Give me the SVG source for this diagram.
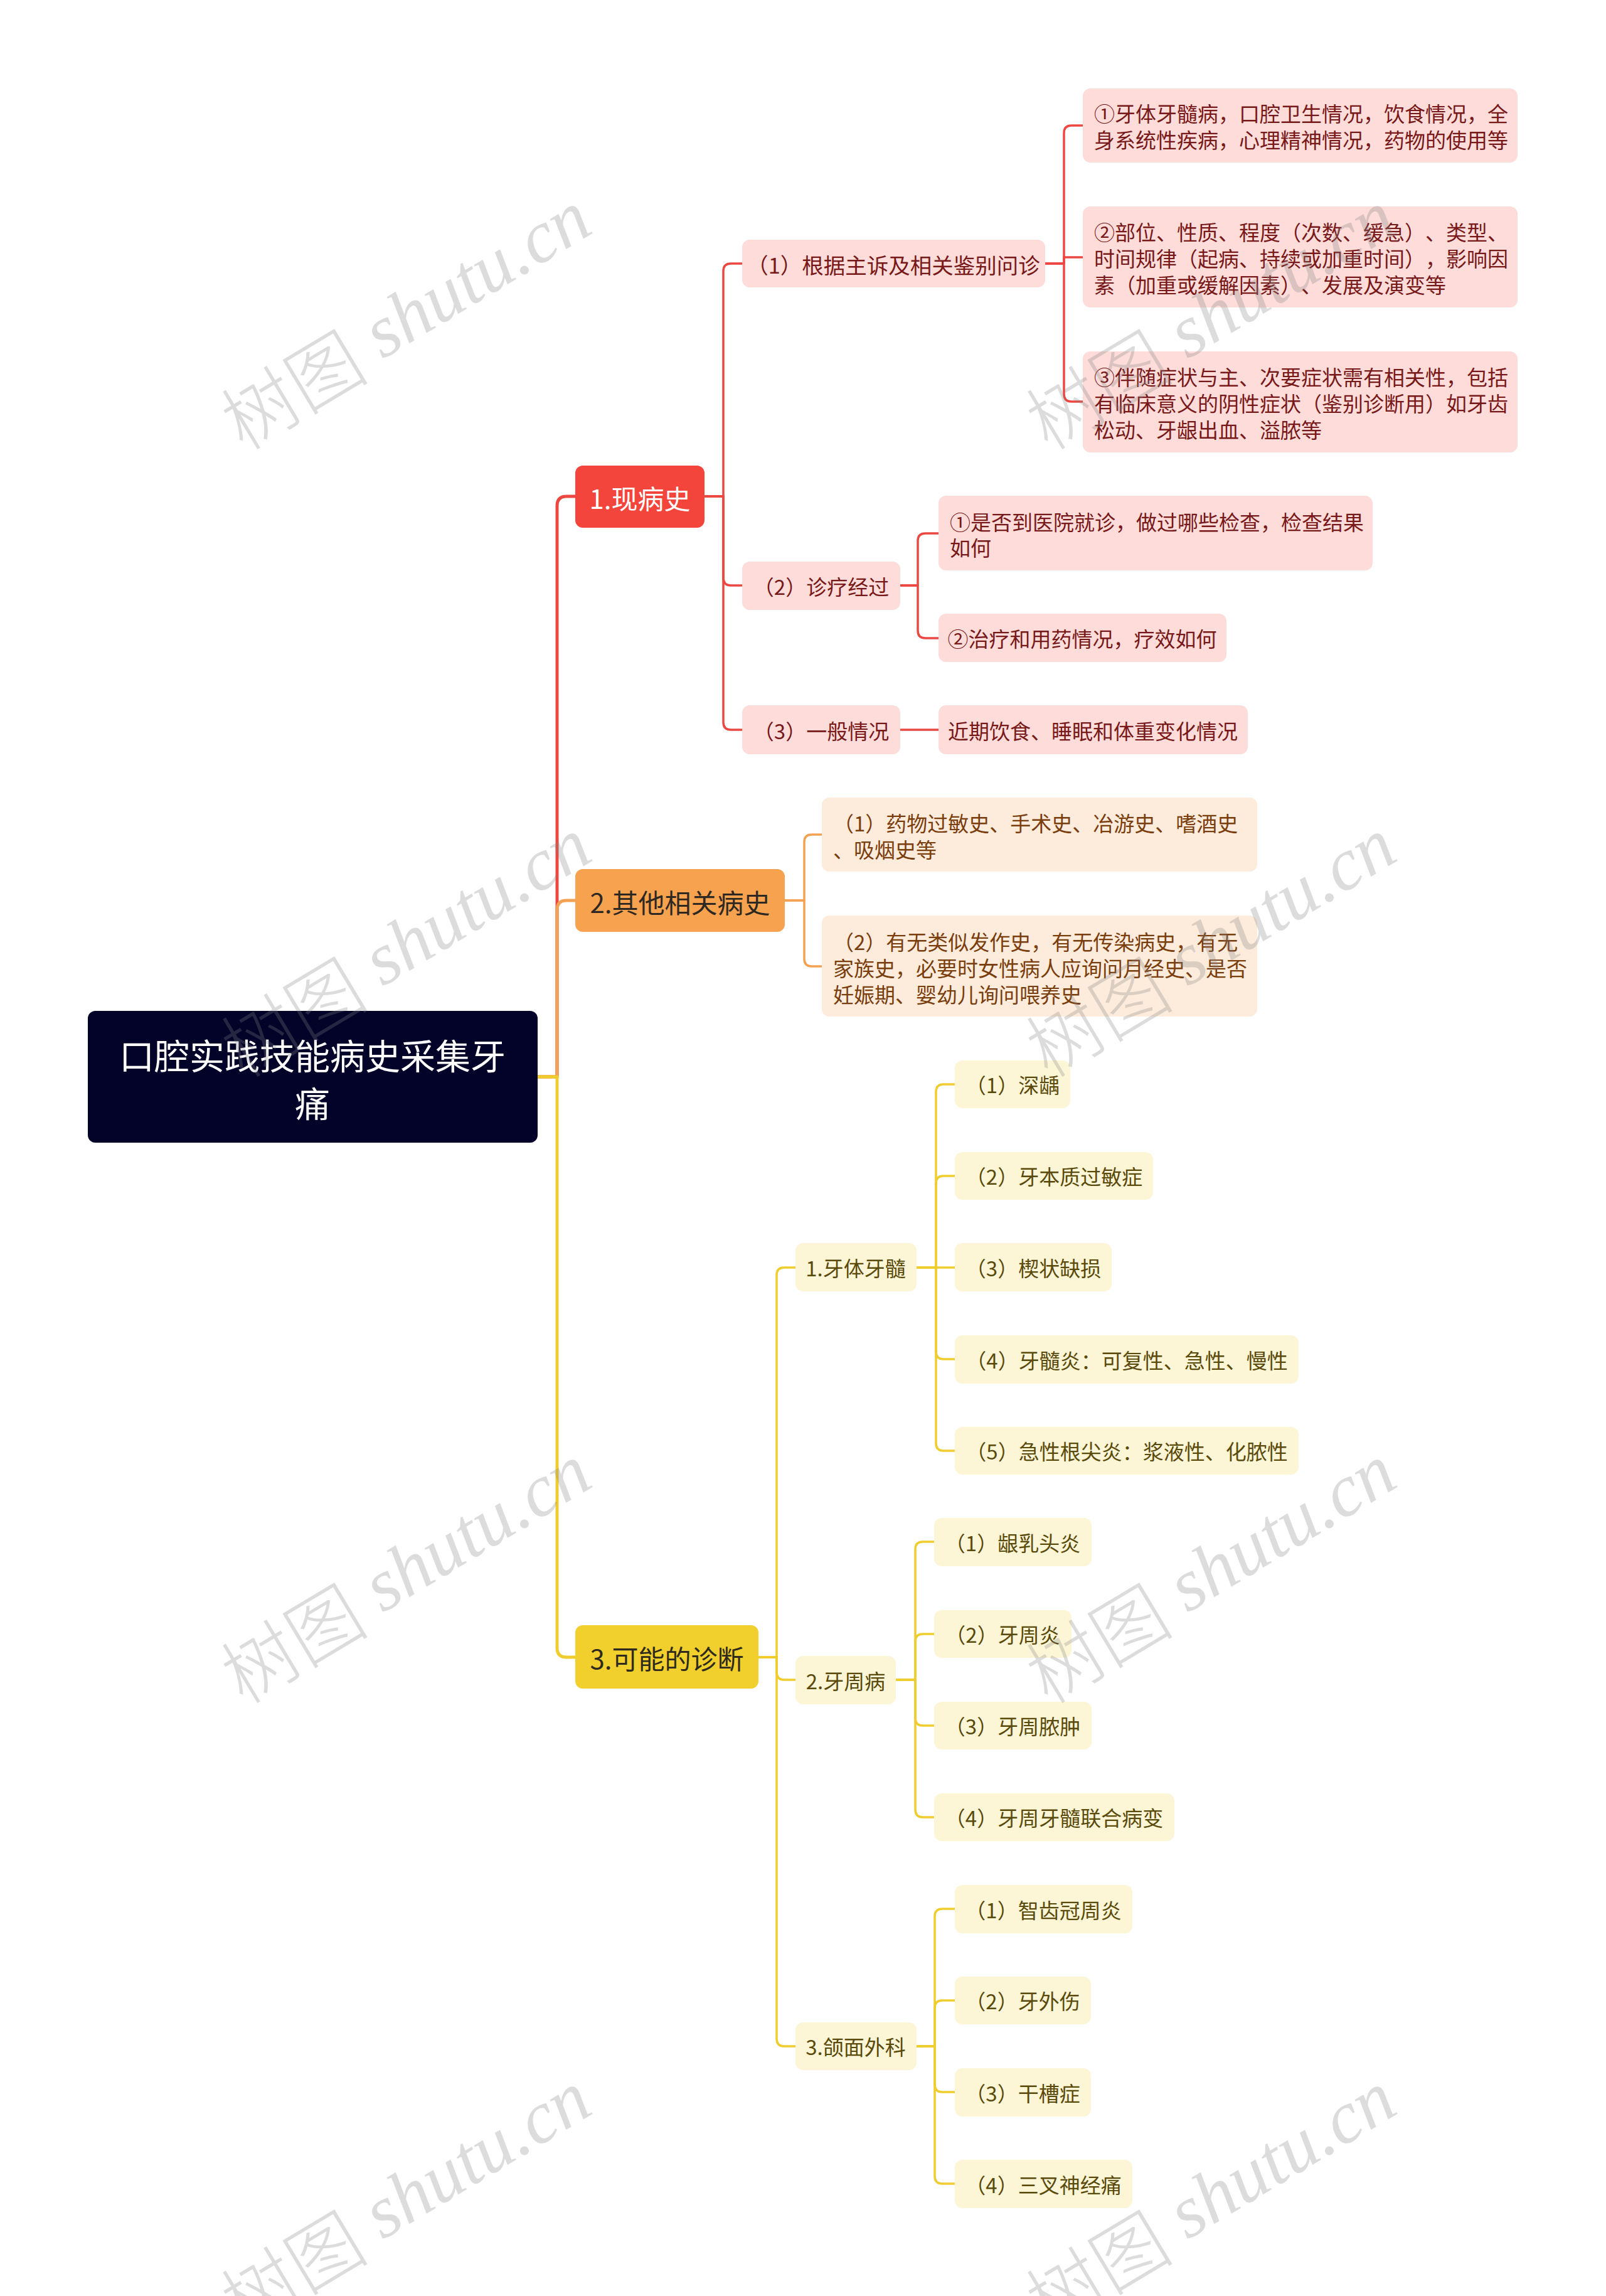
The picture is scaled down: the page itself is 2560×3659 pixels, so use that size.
<svg xmlns="http://www.w3.org/2000/svg" width="2560" height="3659" viewBox="0 0 2560 3659">
<style>
text{font-family:"Noto Sans CJK SC","Noto Sans",sans-serif;dominant-baseline:central;text-spacing-trim:space-all}
.c{text-anchor:middle}
.s{text-anchor:start}
.root rect{fill:#03032A}
.root text{fill:#FFFFFF;font-size:56px}
.l1 text{font-size:42px}
.l2 text{font-size:33px}
.r1 rect{fill:#F4453C}.r1 text{fill:#FFFFFF}
.o1 rect{fill:#F6A24F}.o1 text{fill:#2E2822}
.y1 rect{fill:#F1CF2C}.y1 text{fill:#2E2A1E}
.r2 rect{fill:#FDDCDA}.r2 text{fill:#781818}
.o2 rect{fill:#FDEBDC}.o2 text{fill:#7A3D0C}
.y2 rect{fill:#FCF5D6}.y2 text{fill:#5A4A0A}
.lk path{fill:none;stroke-linecap:round;stroke-linejoin:round}
.lr{stroke:#EC4740}
.lo{stroke:#F2A252}
.ly{stroke:#F0CD2E}
.m{stroke-width:5}
.k{stroke-width:3.5}
.wm text{fill:#808080;fill-opacity:0.28;font-size:118px;text-anchor:middle;font-weight:300}
.wm .lat{font-family:"Liberation Serif",serif;font-style:italic;font-weight:400}
</style>
<rect x="0" y="0" width="2560" height="3659" fill="#FFFFFF"/>

<g id="connectors" class="lk">
  <path class="lr m" d="M857 1716 H888 V806 Q888 791 903 791 H917"/>
  <path class="lo m" d="M857 1716 H888 V1450 Q888 1435 903 1435 H917"/>
  <path class="ly m" d="M857 1716 H888 V2626 Q888 2641 903 2641 H917"/>
  <path class="lr k" d="M1123 791 H1153 V432 Q1153 420 1165 420 H1183"/>
  <path class="lr k" d="M1123 791 H1153 V921 Q1153 933 1165 933 H1183"/>
  <path class="lr k" d="M1123 791 H1153 V1151 Q1153 1163 1165 1163 H1183"/>
  <path class="lr k" d="M1666 420 H1696 V212 Q1696 200 1708 200 H1726"/>
  <path class="lr k" d="M1666 420 H1696 V410 H1726"/>
  <path class="lr k" d="M1666 420 H1696 V628 Q1696 640 1708 640 H1726"/>
  <path class="lr k" d="M1435 933 H1463 V862 Q1463 850 1475 850 H1496"/>
  <path class="lr k" d="M1435 933 H1463 V1005 Q1463 1017 1475 1017 H1496"/>
  <path class="lr k" d="M1435 1163 H1496"/>
  <path class="lo k" d="M1251 1435 H1282 V1342 Q1282 1330 1294 1330 H1310"/>
  <path class="lo k" d="M1251 1435 H1282 V1528 Q1282 1540 1294 1540 H1310"/>
  <path class="ly k" d="M1209 2641 H1238 V2032 Q1238 2020 1250 2020 H1268"/>
  <path class="ly k" d="M1209 2641 H1238 V2665 Q1238 2677 1250 2677 H1268"/>
  <path class="ly k" d="M1209 2641 H1238 V3249 Q1238 3261 1250 3261 H1268"/>
  <path class="ly k" d="M1461 2020 H1492 V1740 Q1492 1728 1504 1728 H1522"/>
  <path class="ly k" d="M1461 2020 H1492 V1886 Q1492 1874 1504 1874 H1522"/>
  <path class="ly k" d="M1461 2020 H1522"/>
  <path class="ly k" d="M1461 2020 H1492 V2154 Q1492 2166 1504 2166 H1522"/>
  <path class="ly k" d="M1461 2020 H1492 V2300 Q1492 2312 1504 2312 H1522"/>
  <path class="ly k" d="M1428 2677 H1459 V2469 Q1459 2457 1471 2457 H1489"/>
  <path class="ly k" d="M1428 2677 H1459 V2616 Q1459 2604 1471 2604 H1489"/>
  <path class="ly k" d="M1428 2677 H1459 V2738 Q1459 2750 1471 2750 H1489"/>
  <path class="ly k" d="M1428 2677 H1459 V2884 Q1459 2896 1471 2896 H1489"/>
  <path class="ly k" d="M1461 3261 H1490 V3054 Q1490 3042 1502 3042 H1522"/>
  <path class="ly k" d="M1461 3261 H1490 V3200 Q1490 3188 1502 3188 H1522"/>
  <path class="ly k" d="M1461 3261 H1490 V3322 Q1490 3334 1502 3334 H1522"/>
  <path class="ly k" d="M1461 3261 H1490 V3468 Q1490 3480 1502 3480 H1522"/>
</g>

<g id="root" class="root">
  <rect x="140" y="1611" width="717" height="210" rx="12"/>
  <text class="c" x="498" y="1679">口腔实践技能病史采集牙</text>
  <text class="c" x="498" y="1755">痛</text>
</g>

<g id="n1" class="l1 r1"><rect x="917" y="742" width="206" height="99" rx="12"/><text class="c" x="1020" y="792">1.现病史</text></g>
<g id="n2" class="l1 o1"><rect x="917" y="1385" width="334" height="100" rx="12"/><text class="c" x="1084" y="1436">2.其他相关病史</text></g>
<g id="n3" class="l1 y1"><rect x="917" y="2590" width="292" height="101" rx="12"/><text class="c" x="1063" y="2641">3.可能的诊断</text></g>

<g id="n1-1" class="l2 r2"><rect x="1183" y="382" width="483" height="76" rx="12"/><text class="c" x="1424" y="421" style="font-size:34.5px">（1）根据主诉及相关鉴别问诊</text></g>
<g id="n1-1-1" class="l2 r2"><rect x="1726" y="141" width="693" height="118" rx="12"/>
  <text class="s" x="1744" y="180">①牙体牙髓病，口腔卫生情况，饮食情况，全</text>
  <text class="s" x="1744" y="222">身系统性疾病，心理精神情况，药物的使用等</text></g>
<g id="n1-1-2" class="l2 r2"><rect x="1726" y="329" width="693" height="161" rx="12"/>
  <text class="s" x="1744" y="369">②部位、性质、程度（次数、缓急）、类型、</text>
  <text class="s" x="1744" y="411">时间规律（起病、持续或加重时间），影响因</text>
  <text class="s" x="1744" y="453">素（加重或缓解因素）、发展及演变等</text></g>
<g id="n1-1-3" class="l2 r2"><rect x="1726" y="560" width="693" height="161" rx="12"/>
  <text class="s" x="1744" y="600">③伴随症状与主、次要症状需有相关性，包括</text>
  <text class="s" x="1744" y="642">有临床意义的阴性症状（鉴别诊断用）如牙齿</text>
  <text class="s" x="1744" y="684">松动、牙龈出血、溢脓等</text></g>
<g id="n1-2" class="l2 r2"><rect x="1183" y="895" width="252" height="77" rx="12"/><text class="c" x="1309" y="934">（2）诊疗经过</text></g>
<g id="n1-2-1" class="l2 r2"><rect x="1496" y="790" width="692" height="119" rx="12"/>
  <text class="s" x="1514" y="831">①是否到医院就诊，做过哪些检查，检查结果</text>
  <text class="s" x="1514" y="872">如何</text></g>
<g id="n1-2-2" class="l2 r2"><rect x="1496" y="978" width="459" height="77" rx="12"/><text class="c" x="1725" y="1017">②治疗和用药情况，疗效如何</text></g>
<g id="n1-3" class="l2 r2"><rect x="1183" y="1124" width="252" height="78" rx="12"/><text class="c" x="1309" y="1164">（3）一般情况</text></g>
<g id="n1-3-1" class="l2 r2"><rect x="1496" y="1124" width="493" height="78" rx="12"/><text class="c" x="1742" y="1164">近期饮食、睡眠和体重变化情况</text></g>

<g id="n2-1" class="l2 o2"><rect x="1310" y="1271" width="694" height="118" rx="12"/>
  <text class="s" x="1328" y="1311">（1）药物过敏史、手术史、冶游史、嗜酒史</text>
  <text class="s" x="1328" y="1353">、吸烟史等</text></g>
<g id="n2-2" class="l2 o2"><rect x="1310" y="1459" width="694" height="161" rx="12"/>
  <text class="s" x="1328" y="1500">（2）有无类似发作史，有无传染病史，有无</text>
  <text class="s" x="1328" y="1542">家族史，必要时女性病人应询问月经史、是否</text>
  <text class="s" x="1328" y="1584">妊娠期、婴幼儿询问喂养史</text></g>

<g id="n3-1" class="l2 y2"><rect x="1268" y="1981" width="193" height="77" rx="12"/><text class="c" x="1364" y="2020">1.牙体牙髓</text></g>
<g id="n3-1-1" class="l2 y2"><rect x="1522" y="1690" width="184" height="76" rx="12"/><text class="c" x="1614" y="1728">（1）深龋</text></g>
<g id="n3-1-2" class="l2 y2"><rect x="1522" y="1836" width="316" height="76" rx="12"/><text class="c" x="1680" y="1874">（2）牙本质过敏症</text></g>
<g id="n3-1-3" class="l2 y2"><rect x="1522" y="1981" width="250" height="77" rx="12"/><text class="c" x="1647" y="2020">（3）楔状缺损</text></g>
<g id="n3-1-4" class="l2 y2"><rect x="1522" y="2128" width="548" height="77" rx="12"/><text class="c" x="1796" y="2167">（4）牙髓炎：可复性、急性、慢性</text></g>
<g id="n3-1-5" class="l2 y2"><rect x="1522" y="2274" width="548" height="76" rx="12"/><text class="c" x="1796" y="2312">（5）急性根尖炎：浆液性、化脓性</text></g>

<g id="n3-2" class="l2 y2"><rect x="1268" y="2639" width="160" height="77" rx="12"/><text class="c" x="1348" y="2678">2.牙周病</text></g>
<g id="n3-2-1" class="l2 y2"><rect x="1489" y="2419" width="251" height="77" rx="12"/><text class="c" x="1614" y="2458">（1）龈乳头炎</text></g>
<g id="n3-2-2" class="l2 y2"><rect x="1489" y="2566" width="219" height="76" rx="12"/><text class="c" x="1598" y="2604">（2）牙周炎</text></g>
<g id="n3-2-3" class="l2 y2"><rect x="1489" y="2712" width="251" height="76" rx="12"/><text class="c" x="1614" y="2750">（3）牙周脓肿</text></g>
<g id="n3-2-4" class="l2 y2"><rect x="1489" y="2858" width="383" height="76" rx="12"/><text class="c" x="1680" y="2896">（4）牙周牙髓联合病变</text></g>

<g id="n3-3" class="l2 y2"><rect x="1268" y="3223" width="193" height="76" rx="12"/><text class="c" x="1364" y="3261">3.颌面外科</text></g>
<g id="n3-3-1" class="l2 y2"><rect x="1522" y="3004" width="283" height="77" rx="12"/><text class="c" x="1663" y="3043">（1）智齿冠周炎</text></g>
<g id="n3-3-2" class="l2 y2"><rect x="1522" y="3150" width="217" height="76" rx="12"/><text class="c" x="1630" y="3188">（2）牙外伤</text></g>
<g id="n3-3-3" class="l2 y2"><rect x="1522" y="3296" width="217" height="77" rx="12"/><text class="c" x="1630" y="3335">（3）干槽症</text></g>
<g id="n3-3-4" class="l2 y2"><rect x="1522" y="3442" width="283" height="77" rx="12"/><text class="c" x="1663" y="3481">（4）三叉神经痛</text></g>

<g id="watermark" class="wm">
  <text transform="translate(645,505) rotate(-31)">树图<tspan class="lat"> shutu.cn</tspan></text>
  <text transform="translate(1928,505) rotate(-31)">树图<tspan class="lat"> shutu.cn</tspan></text>
  <text transform="translate(645,1505) rotate(-31)">树图<tspan class="lat"> shutu.cn</tspan></text>
  <text transform="translate(1928,1505) rotate(-31)">树图<tspan class="lat"> shutu.cn</tspan></text>
  <text transform="translate(645,2503) rotate(-31)">树图<tspan class="lat"> shutu.cn</tspan></text>
  <text transform="translate(1928,2503) rotate(-31)">树图<tspan class="lat"> shutu.cn</tspan></text>
  <text transform="translate(645,3502) rotate(-31)">树图<tspan class="lat"> shutu.cn</tspan></text>
  <text transform="translate(1928,3502) rotate(-31)">树图<tspan class="lat"> shutu.cn</tspan></text>
</g>
</svg>
